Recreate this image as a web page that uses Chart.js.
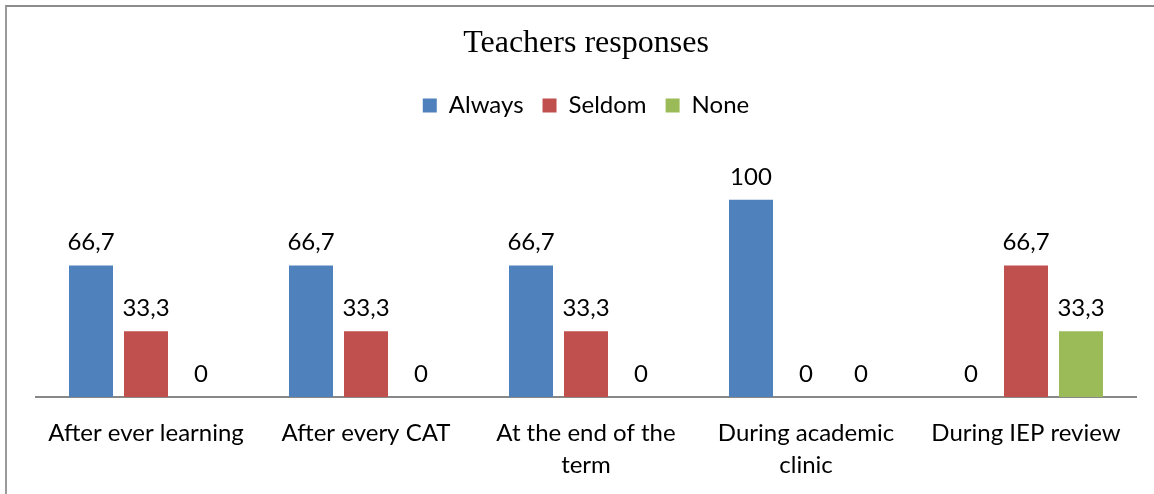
<!DOCTYPE html>
<html>
<head>
<meta charset="utf-8">
<script src="https://cdn.jsdelivr.net/npm/chart.js@4.4.1/dist/chart.umd.min.js"></script>
<style>
  html, body { margin: 0; padding: 0; background: #fff; }
  #wrap { position: relative; width: 1154px; height: 494px; }
  #frame { position: absolute; left: 5px; top: 5px; right: 0; bottom: 0;
           border-top: 2px solid #8c8c8c; border-left: 2px solid #9a9a9a; pointer-events: none; }
  canvas { position: absolute; left: 0; top: 0; }
</style>
</head>
<body>
<div id="wrap">
  <canvas id="myChart" width="1154" height="494"></canvas>
  <div id="frame"></div>
</div>
<script>
// categories (wrapped labels like the original)
const categories = [
    'After ever learning',
    'After every CAT',
    ['At the end of the', 'term'],
    ['During academic', 'clinic'],
    'During IEP review'
];
// values in %
const always = [66.7, 66.7, 66.7, 100, 0];
const seldom = [33.3, 33.3, 33.3, 0, 66.7];
const none = [0, 0, 0, 0, 33.3];

const fontName = 'Lato, "Open Sans", sans-serif';

// draws the value over each bar, comma as decimal sign
const valueLabels = {
    id: 'valueLabels',
    afterDatasetsDraw(chart) {
        const ctx = chart.ctx;
        ctx.save();
        ctx.font = '24px ' + fontName;
        ctx.fillStyle = '#000';
        ctx.textAlign = 'center';
        ctx.textBaseline = 'middle';
        chart.data.datasets.forEach((ds, i) => {
            chart.getDatasetMeta(i).data.forEach((bar, j) => {
                const txt = String(ds.data[j]).replace('.', ',');
                ctx.fillText(txt, bar.x, bar.y - 23);
            });
        });
        ctx.restore();
    }
};

// some room below the legend
const legendMargin = {
    id: 'legendMargin',
    beforeInit(chart) {
        const fit = chart.legend.fit;
        chart.legend.fit = function () {
            fit.bind(chart.legend)();
            this.height += 33;
        };
    }
};

var ctx = document.getElementById('myChart').getContext('2d');
var myChart = new Chart(ctx, {
    type: 'bar',
    data: {
        labels: categories,
        datasets: [
            { label: 'Always', data: always, backgroundColor: '#4F81BD' },
            { label: 'Seldom', data: seldom, backgroundColor: '#C0504D' },
            { label: 'None', data: none, backgroundColor: '#9BBB59' }
        ]
    },
    options: {
        responsive: false,
        animation: false,
        categoryPercentage: 0.75,
        barPercentage: 0.8,
        layout: { padding: { left: 36, right: 18, top: 0, bottom: 11 } },
        plugins: {
            title: {
                display: true,
                text: 'Teachers responses',
                color: '#000',
                font: { family: '"Liberation Serif", "Times New Roman", serif', size: 32, weight: 'normal' },
                padding: { top: 24, bottom: 12 }
            },
            legend: {
                labels: {
                    color: '#000',
                    font: { family: fontName, size: 24 },
                    boxWidth: 14,
                    boxHeight: 14,
                    padding: 19
                }
            },
            tooltip: { enabled: false }
        },
        scales: {
            x: {
                grid: { display: false, drawTicks: false },
                border: { display: true, color: '#888', width: 2 },
                ticks: {
                    color: '#000',
                    padding: 20,
                    maxRotation: 0,
                    autoSkip: false,
                    font: { family: fontName, size: 24, lineHeight: 1.35 }
                },
                afterFit(scale) {
                    scale.height = 86;
                }
            },
            y: {
                display: false,
                min: 0,
                max: 120
            }
        }
    },
    plugins: [valueLabels, legendMargin]
});
</script>
</body>
</html>
